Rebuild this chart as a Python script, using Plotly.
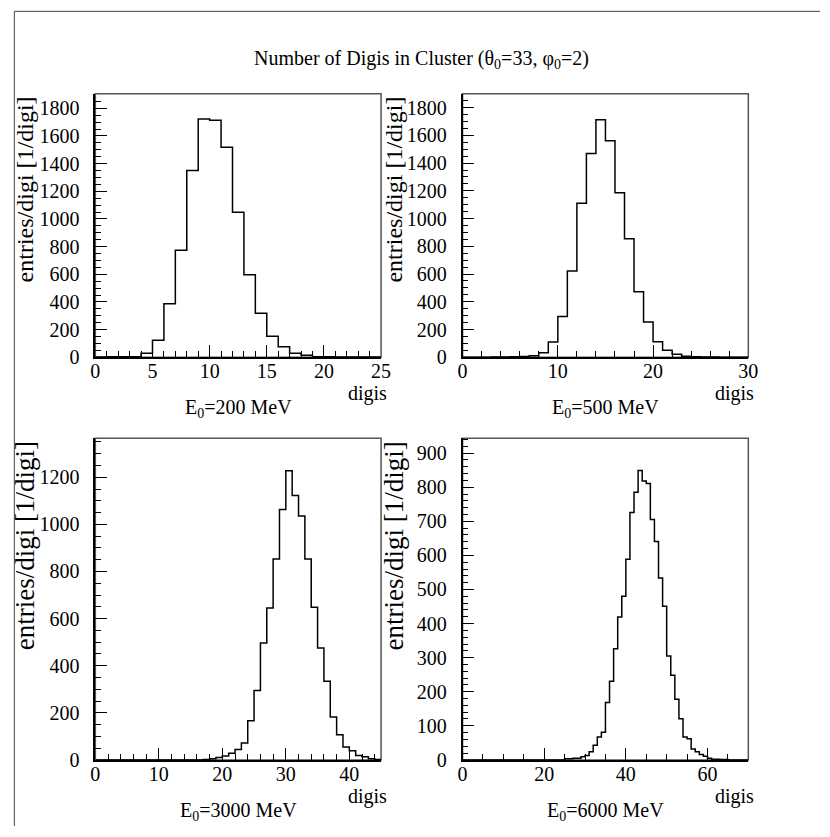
import numpy as np
import plotly.graph_objects as go

# ---------------- data (entries per 1-digi bin) ----------------
counts_200 = [2, 3, 3, 3, 28, 122, 387, 773, 1350, 1722, 1714, 1518, 1048, 597,
              318, 152, 76, 28, 15, 4, 3, 2, 2, 1, 1]
counts_500 = [0, 0, 0, 2, 2, 3, 5, 10, 33, 109, 293, 621, 1110, 1469, 1713, 1561,
              1187, 854, 472, 254, 111, 50, 22, 7, 3, 2, 1, 0, 0, 0]
counts_3000 = [0] * 17 + [2, 5, 10, 16, 28, 44, 72, 166, 295, 496, 645, 853, 1063,
                          1228, 1123, 1035, 853, 648, 475, 334, 182, 107, 55, 39,
                          19, 13, 5, 2]
counts_6000 = [0] * 25 + [3, 3, 5, 5, 9, 13, 24, 43, 67, 81, 168, 231, 326, 419,
                          480, 589, 726, 785, 849, 818, 811, 705, 641, 534, 451,
                          305, 248, 178, 121, 67, 62, 32, 24, 16, 11, 5, 2, 2, 1,
                          1, 0, 0, 0, 0, 0]
energies = ["200", "500", "3000", "6000"]
x_ranges = [25, 30, 45, 70]
y_ranges = [1905, 1900, 1366, 944]
x_dticks = [5, 10, 10, 20]
x_minor = [1, 2, 2, 5]
y_dticks = [200, 200, 200, 100]
y_minor = [50, 50, 50, 20]
all_counts = [counts_200, counts_500, counts_3000, counts_6000]

W, H = 830, 837
FONT = "Liberation Serif"

# panel pixel boxes (left, right, top, bottom)
boxes = [(92, 383, 95, 362), (466, 757, 95, 362),
         (92, 383, 444, 770), (466, 757, 444, 770)]
ytitle_sizes = [24, 24, 27, 27]


def px_x(p):
    return p / W


def px_y(p):
    return 1 - p / H


fig = go.Figure()
layout = dict(width=W, height=H, margin=dict(l=0, r=0, t=0, b=0, pad=0),
              plot_bgcolor="white", paper_bgcolor="white", showlegend=False,
              font=dict(family=FONT, size=20, color="black"))
annotations = []
shapes = []

for i, counts in enumerate(all_counts):
    n = i + 1
    xa = "x" if n == 1 else f"x{n}"
    ya = "y" if n == 1 else f"y{n}"
    edges = np.arange(len(counts) + 1)
    yv = list(counts) + [counts[-1]]
    fig.add_trace(go.Scatter(x=edges, y=yv, mode="lines",
                             line=dict(color="black", width=1.5, shape="hv"),
                             xaxis=xa, yaxis=ya, hoverinfo="skip"))
    l, r, t, b = boxes[i]
    common = dict(showgrid=False, zeroline=False, showline=True,
                  linecolor="black", linewidth=1.5, mirror=False,
                  ticks="inside", tickcolor="black", tickwidth=1, ticklen=12,
                  tickfont=dict(family=FONT, size=20, color="black"),
                  tickmode="linear", tick0=0)
    layout[f"xaxis{'' if n == 1 else n}"] = dict(
        common, domain=[px_x(l), px_x(r)], range=[0, x_ranges[i]],
        dtick=x_dticks[i], anchor=ya, ticklabelstandoff=-5,
        minor=dict(dtick=x_minor[i], tick0=0, ticks="inside", ticklen=6,
                   tickcolor="black", tickwidth=1, showgrid=False))
    layout[f"yaxis{'' if n == 1 else n}"] = dict(
        common, domain=[px_y(b), px_y(t)], range=[0, y_ranges[i]],
        dtick=y_dticks[i], anchor=xa, ticksuffix="\u00a0\u00a0",
        minor=dict(dtick=y_minor[i], tick0=0, ticks="inside", ticklen=6,
                   tickcolor="black", tickwidth=1, showgrid=False))
    # panel frame (top/right sides greyish as in the reference)
    shapes.append(dict(type="rect", xref=f"{xa} domain", yref=f"{ya} domain",
                       x0=0, x1=1, y0=0, y1=1, layer="below",
                       line=dict(color="#555", width=1.5)))
    # axis labels
    annotations.append(dict(text="digis", xref="paper", yref="paper",
                            x=px_x(r + 8), y=px_y(b + 37), xanchor="right",
                            yanchor="middle", showarrow=False,
                            font=dict(family=FONT, size=20)))
    annotations.append(dict(text=f"E<sub>0</sub>={energies[i]} MeV",
                            xref="paper", yref="paper",
                            x=px_x((l + r) / 2), y=px_y(b + 52),
                            xanchor="center", yanchor="middle", showarrow=False,
                            font=dict(family=FONT, size=20)))
    ytx = 20 if i % 2 == 0 else 396
    annotations.append(dict(text="entries/digi [1/digi]", xref="paper",
                            yref="paper", x=px_x(ytx), y=px_y(t + 1),
                            xanchor="center", yanchor="top", textangle=-90,
                            showarrow=False,
                            font=dict(family=FONT, size=ytitle_sizes[i])))

annotations.append(dict(text="Number of Digis in Cluster (θ<sub>0</sub>=33, φ<sub>0</sub>=2)",
                        xref="paper", yref="paper", x=px_x(424), y=px_y(60),
                        xanchor="center", yanchor="middle", showarrow=False,
                        font=dict(family=FONT, size=20)))
layout["annotations"] = annotations
shapes += [
    dict(type="line", xref="paper", yref="paper", x0=px_x(9.5), x1=1.0,
         y0=px_y(11.5), y1=px_y(11.5), line=dict(color="#444", width=1)),
    dict(type="line", xref="paper", yref="paper", x0=px_x(9.5), x1=px_x(9.5),
         y0=0, y1=px_y(11.5), line=dict(color="#444", width=1)),
]
layout["shapes"] = shapes
fig.update_layout(**layout)
fig.write_html("out.html")
